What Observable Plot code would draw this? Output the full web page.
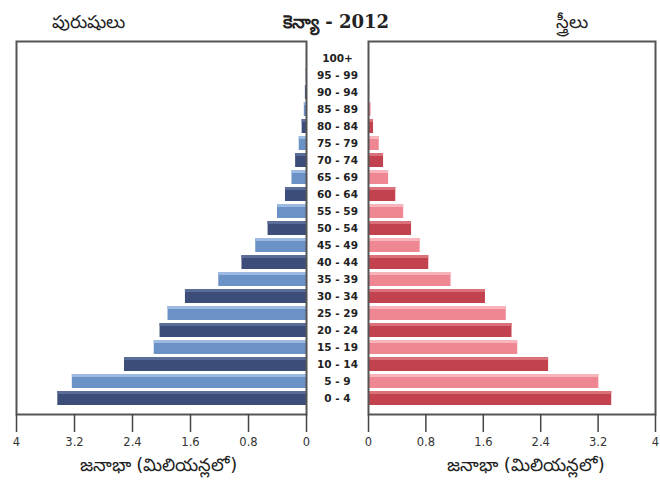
<!DOCTYPE html>
<html>
<head>
<meta charset="utf-8">
<script src="https://cdn.jsdelivr.net/npm/d3@7"></script>
<script src="https://cdn.jsdelivr.net/npm/@observablehq/plot@0.6"></script>
<style>
  html, body { margin: 0; padding: 0; background: #fff; }
  #wrap { position: relative; width: 660px; height: 494px; overflow: hidden; font-family: "DejaVu Sans", "Noto Sans", sans-serif; }
  .ttl { position: absolute; top: 11px; font-size: 18px; color: #222; white-space: nowrap; }
  #left, #right { position: absolute; top: 0; }
  #left { left: 0; z-index: 2; }
  #right { left: 337px; z-index: 1; }
  #left svg { overflow: visible; }
</style>
</head>
<body>
<div id="wrap">
  <div id="right"></div>
  <div id="left"></div>
  <div class="ttl" id="tm" style="left:52px;">పురుషులు</div>
  <div class="ttl" id="tc" style="left:283px; font-weight:bold; font-family:'DejaVu Serif', serif; font-size:18px;">కెన్యా - 2012</div>
  <div class="ttl" id="tf" style="left:556px;">స్త్రీలు</div>
</div>
<script>
const ages = ["0 - 4","5 - 9","10 - 14","15 - 19","20 - 24","25 - 29","30 - 34","35 - 39","40 - 44","45 - 49","50 - 54","55 - 59","60 - 64","65 - 69","70 - 74","75 - 79","80 - 84","85 - 89","90 - 94","95 - 99","100+"];
const male   = [3.43,3.23,2.51,2.10,2.02,1.91,1.67,1.21,0.89,0.70,0.53,0.40,0.29,0.20,0.15,0.10,0.06,0.03,0.015,0.005,0.001];
const female = [3.39,3.21,2.51,2.08,2.00,1.92,1.63,1.15,0.84,0.72,0.60,0.49,0.38,0.28,0.21,0.15,0.07,0.035,0.015,0.005,0.001];
const ticks = [0, 0.8, 1.6, 2.4, 3.2, 4];
const tickLabels = ["0", "0.8", "1.6", "2.4", "3.2", "4"];
const axisTitle = "జనాభా (మిలియన్లలో)";
const maleColors = ["#3b4d78", "#6b92c6"];
const femaleColors = ["#c2424f", "#ef8793"];

const rows = ages.map((a, i) => ({
  age: a, male: male[i], female: female[i],
  mc: maleColors[i % 2], fc: femaleColors[i % 2],
  mh: i % 2 ? "#9dbbe2" : "#5a6d98", fh: i % 2 ? "#f8b4bb" : "#d9707a"
}));
const yDomain = ages.slice().reverse();
const fmt = d => tickLabels[ticks.indexOf(d)];

const common = {
  height: 494, marginTop: 41, marginBottom: 80,
  y: {domain: yDomain, padding: 0.2, axis: null},
  color: {type: "identity"},
  style: {fontFamily: "DejaVu Sans, sans-serif", fontSize: "11px", color: "#333", background: "transparent"}
};

const left = Plot.plot({
  ...common,
  width: 337, marginLeft: 16, marginRight: 31,
  x: {domain: [4, 0], axis: null},
  marks: [
    Plot.barX(rows, {x: "male", y: "age", fill: "mc"}),
    Plot.barX(rows, {x: "male", y: "age", fill: "mh", insetBottom: 11}),
    Plot.frame({stroke: "#555", strokeWidth: 2}),
    Plot.axisX({ticks, tickFormat: fmt, tickSize: 18, tickPadding: 5, stroke: "#444", strokeWidth: 1.5, fontSize: 11.5, label: null}),
    Plot.text([axisTitle], {frameAnchor: "bottom", dy: 56, dx: -3, fontSize: 18, fill: "#222"}),
    Plot.text(rows, {x: () => 0, y: "age", text: "age", dx: 31, fontSize: 10.5, fontWeight: "bold", fill: "#222"})
  ]
});

const right = Plot.plot({
  ...common,
  width: 323, marginLeft: 31, marginRight: 5,
  x: {domain: [0, 4], axis: null},
  marks: [
    Plot.barX(rows, {x: "female", y: "age", fill: "fc"}),
    Plot.barX(rows, {x: "female", y: "age", fill: "fh", insetBottom: 11}),
    Plot.frame({stroke: "#555", strokeWidth: 2}),
    Plot.axisX({ticks, tickFormat: fmt, tickSize: 18, tickPadding: 5, stroke: "#444", strokeWidth: 1.5, fontSize: 11.5, label: null}),
    Plot.text([axisTitle], {frameAnchor: "bottom", dy: 56, dx: 14, fontSize: 18, fill: "#222"})
  ]
});

document.getElementById("left").appendChild(left);
document.getElementById("right").appendChild(right);
</script>
</body>
</html>
